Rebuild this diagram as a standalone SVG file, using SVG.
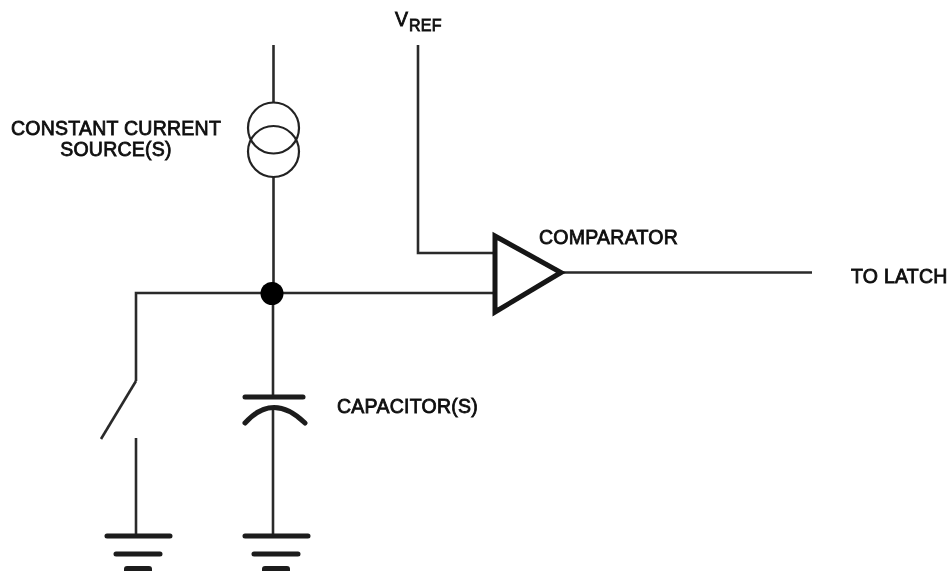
<svg xmlns="http://www.w3.org/2000/svg" width="950" height="571" viewBox="0 0 950 571">
<style>
.w{fill:none;stroke:#2a2a2a;stroke-width:2.6}
.g{fill:none;stroke:#1c1c1c;stroke-width:5;stroke-linecap:round}
.c{fill:none;stroke:#222;stroke-width:2.2}
text{font-family:"Liberation Sans",Arial,sans-serif;font-size:19.500px;letter-spacing:.25px;fill:#111;stroke:#111;stroke-width:.8}
</style>
<defs><filter id="soft" x="0" y="0" width="100%" height="100%"><feGaussianBlur stdDeviation="0.55"/></filter></defs>
<rect width="950" height="571" fill="#fff"/>
<g filter="url(#soft)">
<g id="connectors">
<path class="w" d="M273.500 45V103M273.500 177V293"/>
<path class="w" d="M418 45V253H495"/>
<path class="w" d="M136 381V293H495"/>
<path class="w" d="M136 381L101 439"/>
<path class="w" d="M136 438V536"/>
<path class="w" d="M273 293V397M273 408V536"/>
<path class="w" d="M562 272.500H812"/>
</g>
<g id="current-source">
<circle class="c" cx="273.500" cy="128" r="25.500"/>
<circle class="c" cx="273.500" cy="151.500" r="25.500"/>
</g>
<g id="junction"><circle cx="272" cy="293.500" r="11.500" fill="#000"/></g>
<g id="comparator"><path d="M495 236V312L561 272.500Z" fill="#fff" stroke="#141414" stroke-width="5"/></g>
<g id="capacitor">
<path class="g" d="M245 397H303"/>
<path class="g" d="M245 423Q273 392 305 423"/>
</g>
<g id="ground-1">
<path class="g" d="M107 536H170M116 554H160"/>
<path d="M124 571V569Q124 566 127 566H149Q152 566 152 569V571Z" fill="#1c1c1c"/>
</g>
<g id="ground-2">
<path class="g" d="M245 536H308M254 554H298"/>
<path d="M262 571V569Q262 566 265 566H287Q290 566 290 569V571Z" fill="#1c1c1c"/>
</g>
<g id="labels">
<text x="116" y="135" text-anchor="middle">CONSTANT CURRENT</text>
<text x="116" y="155.500" text-anchor="middle">SOURCE(S)</text>
<text x="395" y="26">V</text>
<text x="409" y="31" style="font-size:16px">REF</text>
<text x="539" y="244">COMPARATOR</text>
<text x="851" y="283">TO LATCH</text>
<text x="337" y="412.500">CAPACITOR(S)</text>
</g>
</g>
</svg>
